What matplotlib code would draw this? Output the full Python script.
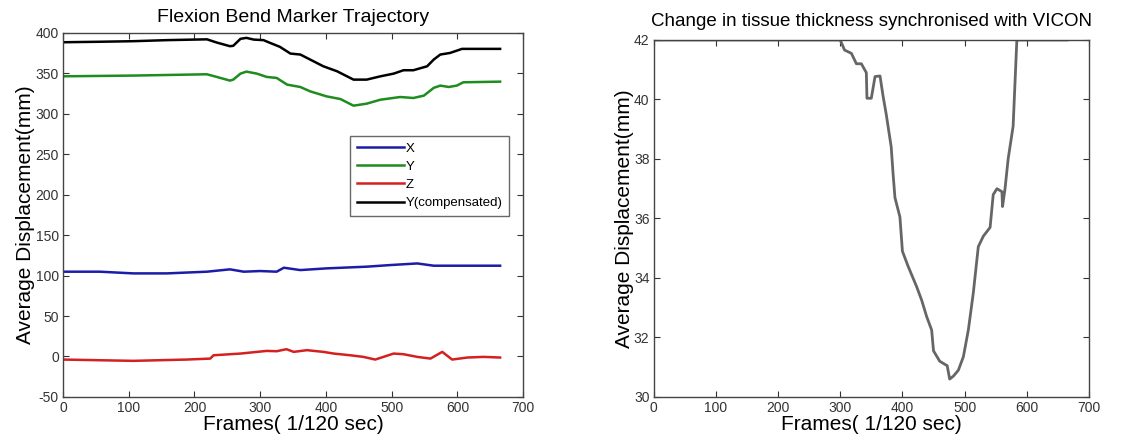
import matplotlib
matplotlib.use("Agg")
import matplotlib.pyplot as plt

plt.rcParams["font.family"] = ["Liberation Sans", "DejaVu Sans"]
plt.rcParams["axes.unicode_minus"] = False

# left panel: marker trajectory (frames, mm)
x_frames = [0, 56, 107, 158, 219, 254, 275, 300, 325, 336, 361, 401, 462, 498, 539, 564, 615, 665]
x_vals = [104.8, 104.8, 102.7, 102.7, 104.8, 107.7, 104.8, 105.6, 104.8, 109.7, 106.8, 108.9,
          111.0, 113.0, 115.0, 112.2, 112.2, 112.2]

y_frames = [0, 107, 219, 234, 254, 259, 270, 279, 295, 310, 325, 341, 361, 376, 401, 422, 442,
            462, 483, 513, 533, 549, 564, 574, 587, 599, 609, 665]
y_vals = [346.3, 347.2, 348.8, 345.5, 341.0, 342.2, 349.6, 352.1, 349.6, 345.5, 344.3, 336.0,
          333.1, 327.7, 321.5, 318.2, 310.0, 312.5, 317.4, 320.7, 319.5, 322.4, 332.0, 334.8,
          333.1, 334.8, 338.9, 339.7]

z_frames = [0, 107, 188, 224, 229, 270, 310, 325, 340, 351, 371, 396, 412, 437, 457, 475, 503,
            518, 539, 559, 577, 592, 615, 640, 665]
z_vals = [-3.8, -5.4, -3.8, -2.6, 1.5, 3.6, 6.9, 6.5, 9.0, 5.7, 7.8, 5.7, 3.6, 1.5, -0.5, -3.8,
          3.6, 2.8, -0.5, -2.6, 5.7, -3.8, -1.3, -0.5, -1.3]

yc_frames = [0, 56, 107, 158, 219, 234, 254, 259, 270, 279, 290, 305, 315, 330, 346, 361, 376,
             396, 417, 432, 442, 462, 483, 503, 518, 533, 554, 564, 574, 589, 607, 625, 665]
yc_vals = [388.4, 389.0, 389.7, 391.0, 392.0, 388.0, 383.5, 384.0, 392.6, 393.8, 391.7, 391.0,
           387.6, 382.7, 374.4, 373.2, 367.0, 358.7, 352.5, 346.3, 342.2, 342.2, 346.3, 349.6,
           353.8, 353.8, 358.7, 367.0, 373.2, 375.2, 380.2, 380.2, 380.2]

# right panel: tissue thickness (frames, mm)
t_frames = [0, 300, 307, 318, 326, 334, 342, 343, 350, 356, 364, 369, 374, 382, 385, 388, 396,
            400, 409, 417, 423, 431, 439, 447, 450, 460, 472, 476, 482, 490, 498, 506, 514, 522,
            530, 541, 546, 552, 560, 561, 565, 570, 578, 581, 584, 665]
t_vals = [42.0, 42.0, 41.66, 41.55, 41.2, 41.2, 40.9, 40.04, 40.04, 40.77, 40.79, 40.1, 39.5,
          38.4, 37.5, 36.7, 36.05, 34.9, 34.4, 34.0, 33.7, 33.25, 32.7, 32.25, 31.55, 31.2,
          31.05, 30.6, 30.7, 30.9, 31.35, 32.25, 33.5, 35.05, 35.4, 35.7, 36.8, 37.0, 36.9,
          36.4, 37.0, 38.0, 39.1, 40.55, 42.0, 42.0]

fig = plt.figure(figsize=(11.25, 4.44), dpi=100)
fig.patch.set_facecolor("white")


def _style(ax):
    for s in ax.spines.values():
        s.set_color("#444444")
        s.set_linewidth(1.0)
    ax.tick_params(direction="in", top=True, right=True, length=4, labelsize=10,
                   colors="#333333", pad=3)


ax1 = fig.add_axes([0.056, 0.106, 0.409, 0.820])
ax1.plot(x_frames, x_vals, color="#1c1ca8", lw=1.8, label="X")
ax1.plot(y_frames, y_vals, color="#1e8c1e", lw=1.8, label="Y")
ax1.plot(z_frames, z_vals, color="#d42020", lw=1.8, label="Z")
ax1.plot(yc_frames, yc_vals, color="black", lw=1.8, label="Y(compensated)")
ax1.set_xlim(0, 700)
ax1.set_ylim(-50, 400)
ax1.set_xticks(range(0, 701, 100))
ax1.set_yticks(range(-50, 401, 50))
_style(ax1)
ax1.set_title("Flexion Bend Marker Trajectory", fontsize=14, pad=8)
ax1.set_xlabel("Frames( 1/120 sec)", fontsize=15, labelpad=0)
ax1.set_ylabel("Average Displacement(mm)", fontsize=15, labelpad=0)
leg = ax1.legend(loc="upper left", bbox_to_anchor=(0.61, 0.735), fontsize=9.5,
                 handlelength=3.6, handletextpad=0.1, labelspacing=0.45,
                 borderpad=0.5, frameon=True, fancybox=False)
leg.get_frame().set_edgecolor("#444444")
leg.get_frame().set_linewidth(1.0)

ax2 = fig.add_axes([0.581, 0.106, 0.387, 0.804])
ax2.plot(t_frames, t_vals, color="#666666", lw=2.0)
ax2.set_xlim(0, 700)
ax2.set_ylim(30, 42)
ax2.set_xticks(range(0, 701, 100))
ax2.set_yticks(range(30, 43, 2))
_style(ax2)
ax2.set_title("Change in tissue thickness synchronised with VICON", fontsize=13.5, pad=10)
ax2.set_xlabel("Frames( 1/120 sec)", fontsize=15, labelpad=0)
ax2.set_ylabel("Average Displacement(mm)", fontsize=15, labelpad=0)

fig.savefig("out.png", dpi=100, facecolor="white")
